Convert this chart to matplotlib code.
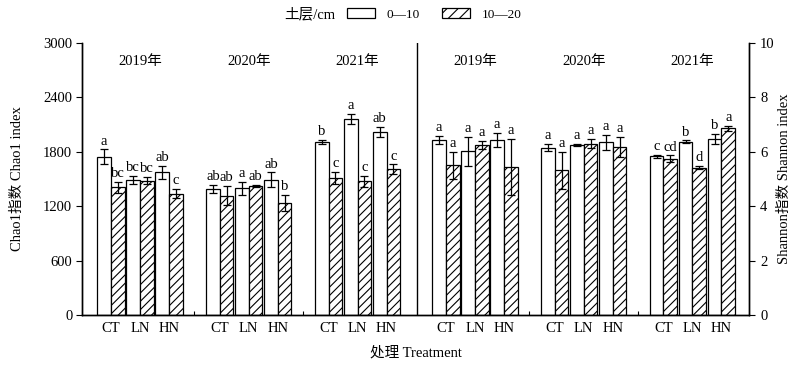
import numpy as np
import matplotlib
matplotlib.use('Agg')
import matplotlib.pyplot as plt
from matplotlib.patches import Patch

plt.rcParams['font.family'] = ['Liberation Serif', 'Noto Sans CJK SC']
plt.rcParams['hatch.linewidth'] = 0.8

years = ['2019年', '2020年', '2021年']
treatments = ['CT', 'LN', 'HN']

# Chao1, order: 2019 CT LN HN, 2020 CT LN HN, 2021 CT LN HN
chao_top = [1746, 1492, 1574, 1390, 1397, 1492, 1908, 2162, 2018]
chao_top_err = [80, 44, 73, 44, 73, 81, 22, 57, 59]
chao_top_lab = ['a', 'bc', 'ab', 'ab', 'a', 'ab', 'b', 'a', 'ab']
chao_sub = [1408, 1481, 1338, 1316, 1423, 1235, 1515, 1475, 1610]
chao_sub_err = [58, 38, 51, 108, 15, 86, 66, 62, 50]
chao_sub_lab = ['bc', 'bc', 'c', 'ab', 'ab', 'b', 'c', 'c', 'c']

# Shannon
shan_top = [6.43, 6.02, 6.43, 6.15, 6.26, 6.35, 5.83, 6.37, 6.47]
shan_top_err = [0.16, 0.53, 0.25, 0.13, 0.04, 0.28, 0.06, 0.05, 0.20]
shan_top_lab = ['a', 'a', 'a', 'a', 'a', 'a', 'c', 'b', 'b']
shan_sub = [5.50, 6.24, 5.44, 5.32, 6.30, 6.19, 5.75, 5.42, 6.86]
shan_sub_err = [0.51, 0.15, 1.02, 0.68, 0.17, 0.37, 0.12, 0.06, 0.09]
shan_sub_lab = ['a', 'a', 'a', 'a', 'a', 'a', 'cd', 'd', 'a']

fig = plt.figure(figsize=(8, 3.69), dpi=100)
ax = fig.add_axes([0.1025, 0.1463, 0.8338, 0.7372])
ax2 = ax.twinx()

left_centers = [2.0, 5.75, 9.5]
right_centers = [13.55, 17.3, 21.05]
divider = 11.55
w = 0.47
fs = 10.5

ax.set_xlim(0, 23)
ax.set_ylim(0, 3000)
ax2.set_ylim(0, 10)
scale = 3000 / 10.0  # draw shannon on left axis scale


def draw(centers, top, top_err, top_lab, sub, sub_err, sub_lab, k):
    xs = []
    for g, c in enumerate(centers):
        for t in range(3):
            xs.append(c + (t - 1))
    xs = np.array(xs)
    top = np.array(top) * k
    sub = np.array(sub) * k
    te = np.array(top_err) * k
    se = np.array(sub_err) * k
    ax.bar(xs - w / 2, top, w, color='white', edgecolor='black', linewidth=0.9)
    ax.bar(xs + w / 2, sub, w, color='white', edgecolor='black', linewidth=0.9, hatch='////')
    ax.errorbar(xs - w / 2, top, yerr=te, fmt='none', ecolor='black', elinewidth=0.9, capsize=3, capthick=0.9)
    ax.errorbar(xs + w / 2, sub, yerr=se, fmt='none', ecolor='black', elinewidth=0.9, capsize=3, capthick=0.9)
    for x, v, e, l in zip(xs - w / 2, top, te, top_lab):
        ax.text(x, v + e + 20, l, ha='center', va='bottom', fontsize=fs)
    for x, v, e, l in zip(xs + w / 2, sub, se, sub_lab):
        ax.text(x, v + e + 20, l, ha='center', va='bottom', fontsize=fs)
    return xs


xl = draw(left_centers, chao_top, chao_top_err, chao_top_lab,
          chao_sub, chao_sub_err, chao_sub_lab, 1)
xr = draw(right_centers, shan_top, shan_top_err, shan_top_lab,
          shan_sub, shan_sub_err, shan_sub_lab, scale)

ax.axvline(divider, color='black', linewidth=1.0)

for c, y in zip(left_centers + right_centers, years + years):
    ax.text(c, 2800, y, ha='center', va='center', fontsize=fs)

# x ticks
ax.set_xticks(np.concatenate([xl, xr]))
ax.set_xticklabels(treatments * 6, fontsize=fs)
ax.tick_params(axis='x', length=0, pad=5)
minor = [(left_centers[0] + left_centers[1]) / 2, (left_centers[1] + left_centers[2]) / 2,
         (right_centers[0] + right_centers[1]) / 2, (right_centers[1] + right_centers[2]) / 2]
ax.set_xticks(minor, minor=True)
ax.tick_params(axis='x', which='minor', direction='in', length=3, width=0.8)

ax.set_yticks([0, 600, 1200, 1800, 2400, 3000])
ax.tick_params(axis='y', direction='out', length=4, width=0.8, labelsize=fs, pad=3)
ax2.set_yticks([0, 2, 4, 6, 8, 10])
ax2.tick_params(axis='y', direction='out', length=4, width=0.8, labelsize=fs, pad=4)

for a in (ax, ax2):
    a.spines['top'].set_visible(False)
    for s in a.spines.values():
        s.set_linewidth(1.0)

ax.set_ylabel('Chao1指数 Chao1 index', fontsize=fs, labelpad=14)
ax2.set_ylabel('Shannon指数 Shannon index', fontsize=fs, rotation=90, labelpad=2)
ax.set_xlabel('处理 Treatment', fontsize=fs, labelpad=8)

# legend
fig.text(0.419, 0.962, '土层/cm', ha='right', va='center', fontsize=fs)
handles = [Patch(facecolor='white', edgecolor='black', linewidth=0.9, label='0—10'),
           Patch(facecolor='white', edgecolor='black', linewidth=0.9, hatch='///', label='10—20')]
fig.legend(handles=handles, loc='center left', bbox_to_anchor=(0.434, 0.962), ncol=2,
           frameon=False, fontsize=9.5, handlelength=2.1, handleheight=0.9,
           columnspacing=1.75, handletextpad=0.85, borderaxespad=0, borderpad=0)

fig.savefig('out.png', dpi=100)
